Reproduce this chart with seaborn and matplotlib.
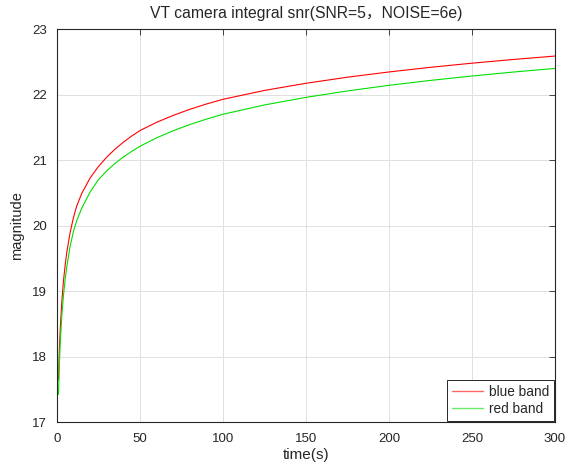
import matplotlib
matplotlib.use("Agg")
import matplotlib.pyplot as plt
import seaborn as sns
import pandas as pd

# Data
time_s = [1, 1.5, 2, 3, 4, 5, 6, 8, 10, 12, 15, 20, 25, 30, 35, 40, 45, 50,
          60, 70, 80, 90, 100, 125, 150, 175, 200, 225, 250, 275, 300]
blue_band = [17.64, 18.08, 18.39, 18.83, 19.15, 19.39, 19.59, 19.89, 20.12,
             20.30, 20.49, 20.725, 20.90, 21.044, 21.166, 21.272, 21.366,
             21.45, 21.576, 21.682, 21.775, 21.856, 21.928, 22.064, 22.173,
             22.266, 22.346, 22.417, 22.480, 22.537, 22.589]
red_band = [17.42, 17.86, 18.17, 18.61, 18.93, 19.17, 19.37, 19.68, 19.91,
            20.075, 20.265, 20.51, 20.70, 20.834, 20.948, 21.046, 21.132,
            21.21, 21.339, 21.448, 21.542, 21.625, 21.70, 21.842, 21.958,
            22.056, 22.142, 22.217, 22.284, 22.345, 22.40]
series_names = ["blue band", "red band"]
x_ticks = [0, 50, 100, 150, 200, 250, 300]
y_ticks = [17, 18, 19, 20, 21, 22, 23]

df = pd.concat([
    pd.DataFrame({"time": time_s, "mag": blue_band, "band": series_names[0]}),
    pd.DataFrame({"time": time_s, "mag": red_band, "band": series_names[1]}),
])

sns.set_style("whitegrid")
plt.rcParams["font.family"] = ["Liberation Sans", "Noto Sans CJK SC", "DejaVu Sans"]

fig = plt.figure(figsize=(5.68, 4.70), dpi=100)
ax = fig.add_axes([0.100, 0.102, 0.877, 0.836])

sns.lineplot(data=df, x="time", y="mag", hue="band",
             palette={"blue band": "#ff0000", "red band": "#00e000"},
             linewidth=0.8, ax=ax, sort=False, estimator=None)

ax.set_xlim(0, 300)
ax.set_ylim(17, 23)
ax.set_xticks(x_ticks)
ax.set_yticks(y_ticks)
ax.grid(True, color="#e0e0e0", linewidth=0.7)
for s in ax.spines.values():
    s.set_visible(True)
    s.set_color("#262626")
    s.set_linewidth(0.8)
ax.tick_params(direction="in", length=4, width=0.6, color="#262626",
               top=True, right=True, labelsize=9.5, labelcolor="#262626")
ax.tick_params(axis="x", pad=8)
ax.tick_params(axis="y", pad=7)
ax.set_xlabel("time(s)", fontsize=11, color="#262626", labelpad=2)
ax.set_ylabel("magnitude", fontsize=10.5, color="#262626", labelpad=6)
ax.set_title("VT camera integral snr(SNR=5，NOISE=6e)", fontsize=11.3,
             color="#262626", pad=8)

leg = ax.legend(loc="lower right", fontsize=9.8, frameon=True, fancybox=False,
                edgecolor="#262626", framealpha=1, borderaxespad=0.1,
                handlelength=2.3, handletextpad=0.4, borderpad=0.35,
                labelspacing=0.25, title=None)
leg.get_frame().set_linewidth(0.7)
for line in leg.get_lines():
    line.set_linewidth(1.0)
    line.set_alpha(0.6)

fig.savefig("out.png", dpi=100)
